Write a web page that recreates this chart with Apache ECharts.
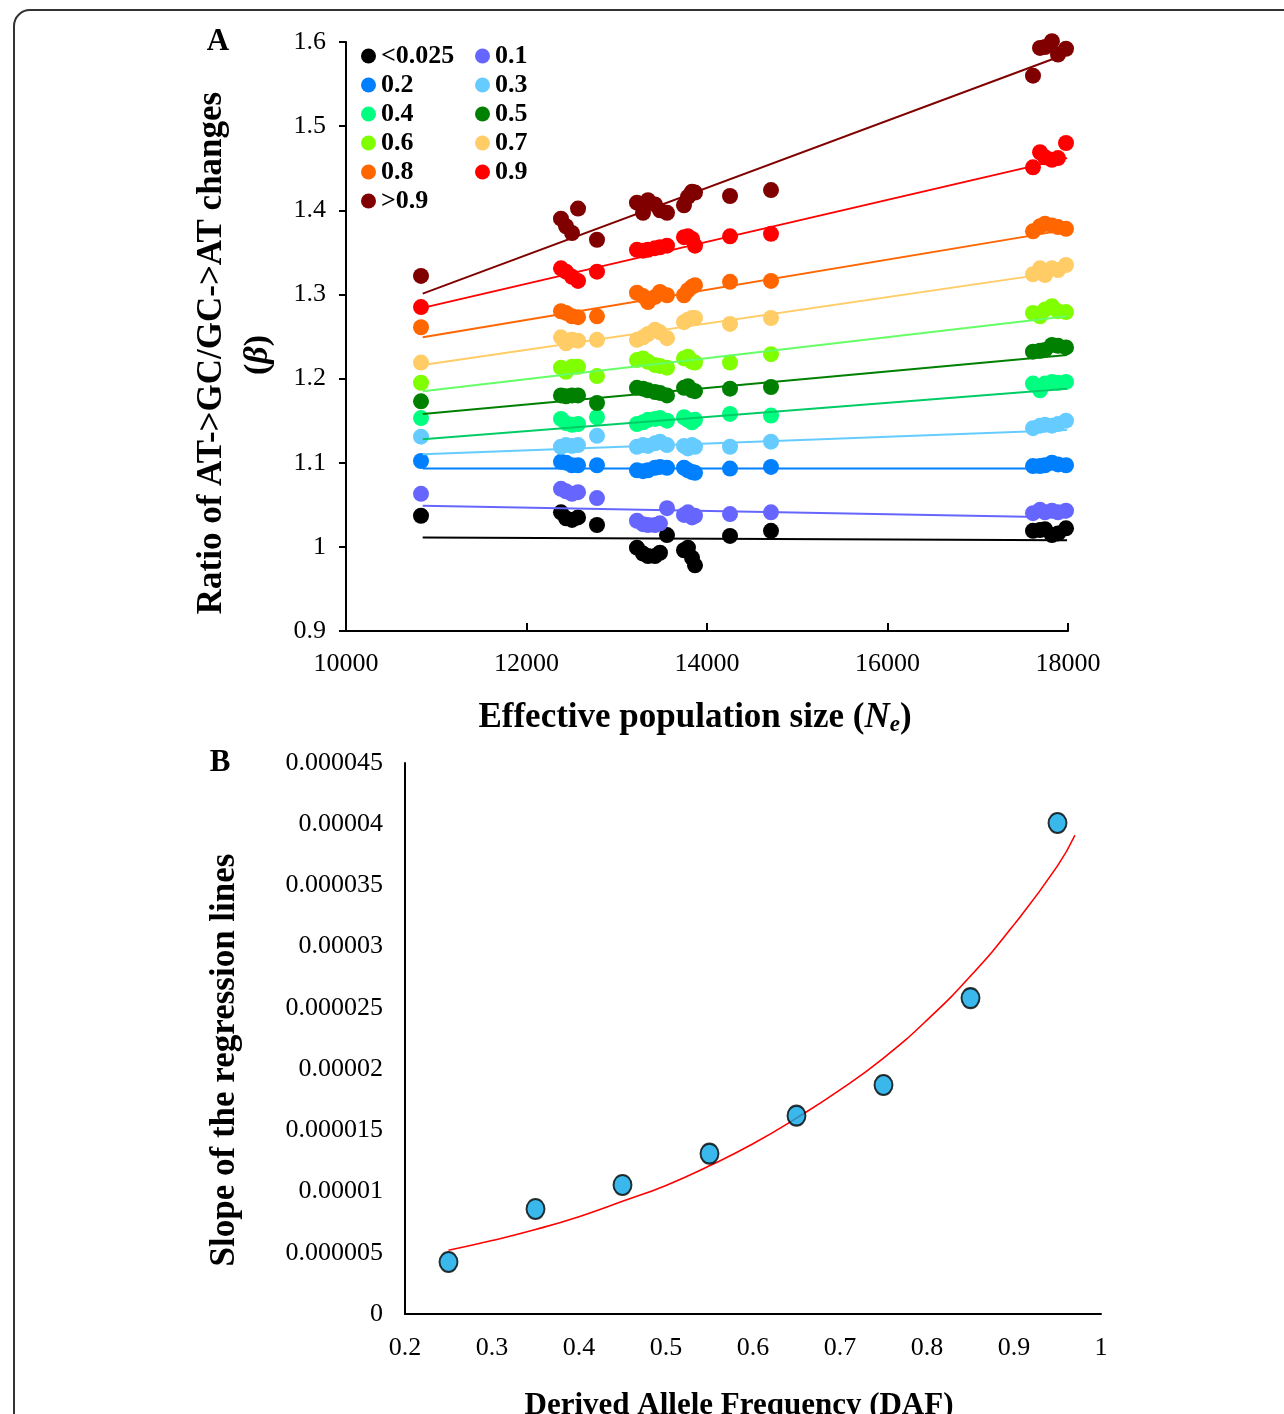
<!DOCTYPE html>
<html><head><meta charset="utf-8">
<script src="https://cdn.jsdelivr.net/npm/echarts@6/dist/echarts.min.js"></script>
<style>html,body{margin:0;padding:0;background:#fff}#c{width:1284px;height:1414px}</style>
</head><body><div id="c"></div><script>
// ---------- Panel A data ----------
const neValues = [10831,12382,12438,12504,12571,12781,13224,13291,13346,13424,13479,13557,13745,13789,13834,13867,14255,14709,17612,17690,17745,17822,17889,17978];
const dafClasses = ['<0.025','0.1','0.2','0.3','0.4','0.5','0.6','0.7','0.8','0.9','>0.9'];
const betaLt0025 = [1.037,1.041,1.034,1.032,1.035,1.026,0.999,0.992,0.989,0.989,0.993,1.014,0.996,0.999,0.987,0.978,1.013,1.019,1.019,1.020,1.021,1.014,1.016,1.022];
const beta01 = [1.063,1.069,1.066,1.063,1.065,1.058,1.031,1.027,1.026,1.026,1.028,1.046,1.038,1.041,1.035,1.037,1.039,1.041,1.040,1.044,1.041,1.043,1.041,1.043];
const beta02 = [1.102,1.101,1.100,1.097,1.097,1.097,1.091,1.090,1.091,1.094,1.095,1.094,1.094,1.091,1.089,1.088,1.093,1.095,1.096,1.096,1.097,1.100,1.098,1.097];
const beta03 = [1.131,1.119,1.121,1.120,1.121,1.132,1.119,1.121,1.120,1.123,1.125,1.121,1.120,1.117,1.121,1.119,1.119,1.125,1.141,1.144,1.145,1.144,1.146,1.150];
const beta04 = [1.153,1.152,1.147,1.145,1.146,1.154,1.146,1.148,1.151,1.152,1.153,1.150,1.154,1.151,1.148,1.151,1.158,1.156,1.194,1.186,1.194,1.196,1.195,1.196];
const beta05 = [1.173,1.180,1.179,1.180,1.180,1.171,1.189,1.188,1.186,1.184,1.183,1.180,1.189,1.191,1.186,1.185,1.188,1.190,1.232,1.233,1.234,1.240,1.239,1.237];
const beta06 = [1.195,1.213,1.208,1.214,1.214,1.203,1.222,1.224,1.220,1.216,1.215,1.213,1.224,1.226,1.220,1.219,1.219,1.229,1.278,1.274,1.282,1.286,1.280,1.279];
const beta07 = [1.219,1.249,1.242,1.246,1.245,1.246,1.246,1.249,1.253,1.258,1.255,1.248,1.267,1.270,1.272,1.272,1.265,1.272,1.324,1.331,1.323,1.331,1.329,1.335];
const beta08 = [1.261,1.280,1.278,1.274,1.273,1.274,1.302,1.298,1.291,1.297,1.303,1.299,1.299,1.305,1.309,1.311,1.315,1.316,1.375,1.381,1.384,1.382,1.380,1.378];
const beta09 = [1.285,1.331,1.327,1.321,1.316,1.327,1.353,1.352,1.353,1.355,1.356,1.358,1.368,1.369,1.366,1.358,1.369,1.372,1.451,1.469,1.463,1.460,1.462,1.480];
const betaGt09 = [1.322,1.390,1.381,1.373,1.402,1.365,1.409,1.397,1.412,1.407,1.400,1.397,1.406,1.416,1.422,1.421,1.417,1.424,1.560,1.593,1.594,1.601,1.585,1.592];
// regression lines (read at both ends)
const trendNe = [10850, 17990];
const trendStart = [1.011,1.049,1.093,1.110,1.128,1.158,1.185,1.216,1.249,1.284,1.301];
const trendEnd   = [1.008,1.035,1.093,1.139,1.188,1.228,1.274,1.328,1.377,1.462,1.586];
const yTicksA = ['0.9','1','1.1','1.2','1.3','1.4','1.5','1.6'];
const xTicksA = ['10000','12000','14000','16000','18000'];

// ---------- Panel B data ----------
const dafMid = [0.25,0.35,0.45,0.55,0.65,0.75,0.85,0.95];
const slopeVals = [4.25e-6,8.58e-6,10.54e-6,13.1e-6,16.2e-6,18.7e-6,25.8e-6,40.1e-6];
const fitDaf = [0.25,0.30,0.35,0.40,0.45,0.50,0.55,0.60,0.65,0.70,0.75,0.80,0.85,0.90,0.95,0.97];
const fitSlope = [5.2e-6,6.0e-6,6.9e-6,7.95e-6,9.2e-6,10.5e-6,12.1e-6,13.9e-6,16.0e-6,18.3e-6,20.9e-6,24.0e-6,27.6e-6,31.8e-6,36.6e-6,39.1e-6];
const yTicksB = ['0','0.000005','0.00001','0.000015','0.00002','0.000025','0.00003','0.000035','0.00004','0.000045'];
const xTicksB = ['0.2','0.3','0.4','0.5','0.6','0.7','0.8','0.9','1'];

// ---------- styles ----------
const FONT = "'Liberation Serif','Times New Roman',serif";
const dotColors  = ['#000000','#6666FF','#0080FF','#66CCFF','#00FF80','#008000','#80FF00','#FFCC66','#FF6600','#FF0000','#800000'];
const lineColors = ['#000000','#6666FF','#0080FF','#66CCFF','#00CC66','#008000','#66FF66','#FFCC66','#FF6600','#FF0000','#800000'];
const betaSeries = [betaLt0025,beta01,beta02,beta03,beta04,beta05,beta06,beta07,beta08,beta09,betaGt09];

const series = [];
betaSeries.forEach((vals, k) => {
  series.push({
    type:'scatter', name: dafClasses[k], xAxisIndex:0, yAxisIndex:0,
    data: neValues.map((n,i)=>[n, vals[i]]),
    symbol:'circle', symbolSize:16, clip:false,
    itemStyle:{color:dotColors[k], opacity:1}, z:2
  });
});
betaSeries.forEach((vals, k) => {
  series.push({
    type:'line', name:'trend'+k, xAxisIndex:0, yAxisIndex:0,
    data:[[trendNe[0], trendStart[k]],[trendNe[1], trendEnd[k]]],
    showSymbol:false, symbol:'none',
    lineStyle:{color:lineColors[k], width:2}, z:3, silent:true
  });
});
series.push({
  type:'line', name:'fit', xAxisIndex:1, yAxisIndex:1,
  data: fitDaf.map((d,i)=>[d, fitSlope[i]]),
  smooth:true, symbol:'none', lineStyle:{color:'#FF0000', width:1.6}, z:2
});
series.push({
  type:'scatter', name:'slope', xAxisIndex:1, yAxisIndex:1,
  data: dafMid.map((d,i)=>[d, slopeVals[i]]),
  symbol:'circle', symbolSize:[18,20],
  itemStyle:{color:'#0AA6E6', borderColor:'#000', borderWidth:2}, z:3
});

const legendText = {fontFamily:FONT, fontWeight:'bold', fontSize:26, color:'#000'};
const chart = echarts.init(document.getElementById('c'), null, {renderer:'canvas'});
chart.setOption({
  animation:false,
  backgroundColor:'#fff',
  grid:[
    {left:346, top:42, width:722, height:589, containLabel:false},
    {left:405, top:763, width:696, height:551, containLabel:false}
  ],
  xAxis:[
    {gridIndex:0, type:'value', min:10000, max:18000, interval:2000,
     axisLine:{lineStyle:{color:'#000', width:2}},
     axisTick:{show:true, inside:true, length:8, lineStyle:{color:'#000', width:2}},
     axisLabel:{color:'#000', fontFamily:FONT, fontSize:26, margin:20,
       formatter:(v)=>xTicksA[Math.round((v-10000)/2000)]},
     splitLine:{show:false}},
    {gridIndex:1, type:'value', min:0.2, max:1, interval:0.1,
     axisLine:{lineStyle:{color:'#000', width:2}},
     axisTick:{show:false},
     axisLabel:{color:'#000', fontFamily:FONT, fontSize:26, margin:21,
       formatter:(v)=>xTicksB[Math.round((v-0.2)/0.1)]},
     splitLine:{show:false}}
  ],
  yAxis:[
    {gridIndex:0, type:'value', min:0.9, max:1.6, interval:0.1,
     axisLine:{show:true, lineStyle:{color:'#000', width:2}},
     axisTick:{show:true, length:7, lineStyle:{color:'#000', width:2}},
     axisLabel:{color:'#000', fontFamily:FONT, fontSize:26, margin:20,
       formatter:(v)=>yTicksA[Math.round((v-0.9)/0.1)]},
     splitLine:{show:false}},
    {gridIndex:1, type:'value', min:0, max:0.000045, interval:0.000005,
     axisLine:{show:true, lineStyle:{color:'#000', width:2}},
     axisTick:{show:false},
     axisLabel:{color:'#000', fontFamily:FONT, fontSize:26, margin:22,
       formatter:(v)=>yTicksB[Math.round(v/0.000005)]},
     splitLine:{show:false}}
  ],
  legend:[
    {left:356, top:38, orient:'vertical', selectedMode:false, icon:'circle',
     itemWidth:15, itemHeight:15, itemGap:3, textStyle:legendText,
     data:['<0.025','0.2','0.4','0.6','0.8','>0.9']},
    {left:470, top:38, orient:'vertical', selectedMode:false, icon:'circle',
     itemWidth:15, itemHeight:15, itemGap:3, textStyle:legendText,
     data:['0.1','0.3','0.5','0.7','0.9']}
  ],
  graphic:[
    {type:'rect', silent:true, z:-10, shape:{x:14, y:10, width:1320, height:1440, r:16},
     style:{fill:null, stroke:'#333', lineWidth:2}},
    {type:'text', x:218, y:42, style:{text:'A', font:"bold 31px "+FONT, fill:'#000', textAlign:'center', textVerticalAlign:'middle'}},
    {type:'text', x:220, y:763, style:{text:'B', font:"bold 31px "+FONT, fill:'#000', textAlign:'center', textVerticalAlign:'middle'}},
    {type:'text', x:212, y:353, rotation:Math.PI/2,
     style:{text:'Ratio of AT->GC/GC->AT changes', font:"bold 35px "+FONT, fill:'#000', textAlign:'center', textVerticalAlign:'middle'}},
    {type:'text', x:258, y:355, rotation:Math.PI/2,
     style:{text:'{p|(}{g|β}{p|)}', textAlign:'center', textVerticalAlign:'middle',
       rich:{p:{fontFamily:FONT, fontWeight:'bold', fontSize:34, fill:'#000'},
             g:{fontFamily:FONT, fontWeight:'bold', fontStyle:'italic', fontSize:34, fill:'#000'}}}},
    {type:'text', x:695, y:718,
     style:{text:'{b|Effective population size (}{i|N}{s|e}{b|)}', textAlign:'center', textVerticalAlign:'middle',
       rich:{b:{fontFamily:FONT, fontWeight:'bold', fontSize:35, fill:'#000', lineHeight:38},
             i:{fontFamily:FONT, fontWeight:'bold', fontStyle:'italic', fontSize:35, fill:'#000', lineHeight:38},
             s:{fontFamily:FONT, fontWeight:'bold', fontStyle:'italic', fontSize:23, fill:'#000', verticalAlign:'bottom', lineHeight:38, padding:[16,0,0,0]}}}},
    {type:'text', x:225, y:1060, rotation:Math.PI/2,
     style:{text:'Slope of the regression lines', font:"bold 35px "+FONT, fill:'#000', textAlign:'center', textVerticalAlign:'middle'}},
    {type:'text', x:739, y:1406,
     style:{text:'Derived Allele Frequency (DAF)', font:"bold 31px "+FONT, fill:'#000', textAlign:'center', textVerticalAlign:'middle'}}
  ],
  series: series
});
</script></body></html>
